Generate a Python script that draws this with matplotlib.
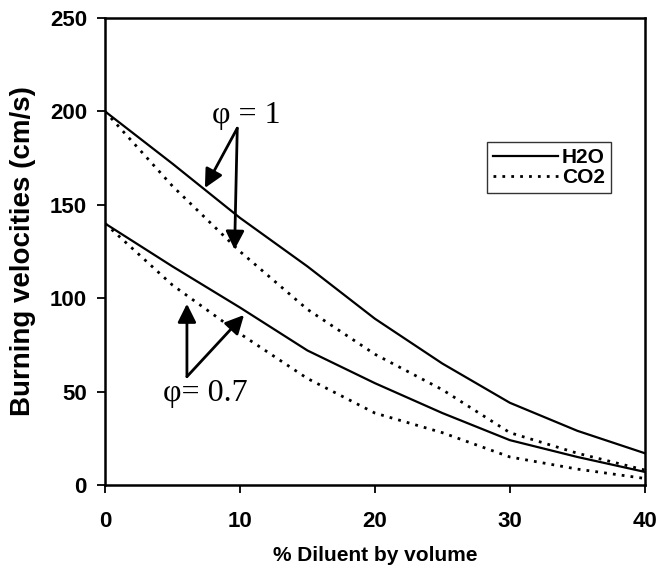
import matplotlib
matplotlib.use("Agg")
import matplotlib.pyplot as plt

# Data (x = % diluent by volume)
diluent = [0, 5, 10, 15, 20, 25, 30, 35, 40]
h2o_phi1 = [200, 172, 143, 117, 89, 65, 44, 29, 17]
co2_phi1 = [200, 160, 125, 94, 70, 51, 28, 17, 8]
h2o_phi07 = [140, 117, 95, 72, 54.5, 38.5, 24, 15, 7]
co2_phi07 = [140, 107, 81, 57, 38.5, 28, 15, 8.5, 3.5]

fig = plt.figure(figsize=(6.58, 5.73), dpi=100)
ax = fig.add_axes([0.1596, 0.1536, 0.8204, 0.815])

dotted = (0, (1, 2.2))
ax.plot(diluent, h2o_phi1, color="black", lw=1.6, label="H2O")
ax.plot(diluent, co2_phi1, color="black", lw=2.0, linestyle=dotted, label="CO2")
ax.plot(diluent, h2o_phi07, color="black", lw=1.6)
ax.plot(diluent, co2_phi07, color="black", lw=2.0, linestyle=dotted)

ax.set_xlim(0, 40)
ax.set_ylim(0, 250)
ax.set_xticks([0, 10, 20, 30, 40])
ax.set_yticks([0, 50, 100, 150, 200, 250])

tick_font = dict(family="Liberation Sans", weight="bold", size=16)
ax.set_xticklabels(["0", "10", "20", "30", "40"], fontdict=tick_font)
ax.set_yticklabels(["0", "50", "100", "150", "200", "250"], fontdict=tick_font)
ax.tick_params(axis="both", direction="out", length=6, width=1.3, colors="black")
ax.tick_params(axis="x", pad=13)
ax.tick_params(axis="y", pad=7)
for s in ax.spines.values():
    s.set_linewidth(1.8)

ax.set_xlabel("% Diluent by volume", family="Liberation Sans", weight="bold",
              size=15, labelpad=10)
ax.set_ylabel("Burning velocities (cm/s)", family="Liberation Sans", weight="bold",
              size=20, labelpad=10)

# Annotations with arrows
arrow = dict(arrowstyle="-|>", color="black", lw=2, mutation_scale=28,
             shrinkA=0, shrinkB=0)
ax.text(10.5, 198, "\u03c6 = 1", family="Liberation Serif", size=23,
        ha="center", va="center")
ax.annotate("", xy=(7.4, 159), xytext=(9.8, 191), arrowprops=arrow)
ax.annotate("", xy=(9.6, 126), xytext=(9.8, 191), arrowprops=arrow)

ax.text(7.4, 49, "\u03c6= 0.7", family="Liberation Serif", size=23,
        ha="center", va="center")
ax.annotate("", xy=(6.07, 97), xytext=(6.07, 58), arrowprops=arrow)
ax.annotate("", xy=(10.3, 91), xytext=(6.07, 58), arrowprops=arrow)

leg = ax.legend(loc="upper left", bbox_to_anchor=(0.707, 0.735),
                prop=dict(family="Liberation Sans", weight="bold", size=15),
                frameon=True, fancybox=False, handlelength=3.1,
                handletextpad=0.2, borderpad=0.3, labelspacing=0.05,
                borderaxespad=0)
leg.get_frame().set_edgecolor("black")
leg.get_frame().set_linewidth(1.0)

fig.savefig("out.png", dpi=100)
